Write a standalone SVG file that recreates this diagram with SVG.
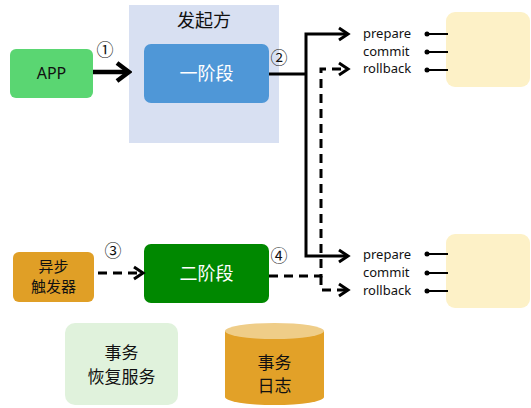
<svg xmlns="http://www.w3.org/2000/svg" width="531" height="408" viewBox="0 0 531 408">
<style>
.cn{font-family:"Noto Sans CJK SC","Microsoft YaHei",sans-serif;text-anchor:middle}
.en{font-family:"Noto Sans","Open Sans",sans-serif;font-size:13px;fill:#111}
.num{font-family:"Noto Sans CJK SC",sans-serif;font-size:17px;fill:#111;text-anchor:middle}
.solid{fill:none;stroke:#000;stroke-width:3}
.dash{fill:none;stroke:#000;stroke-width:3;stroke-dasharray:9,6}
.pin{stroke:#000;stroke-width:2}
</style>
<defs>
<marker id="chev" markerUnits="userSpaceOnUse" markerWidth="16" markerHeight="16" refX="13" refY="8" orient="auto" viewBox="0 0 16 16">
<path d="M4,2 L13,8 L4,14" fill="none" stroke="#000" stroke-width="3"/>
</marker>
<marker id="chevBig" markerUnits="userSpaceOnUse" markerWidth="20" markerHeight="24" refX="17" refY="12" orient="auto" viewBox="0 0 20 24">
<path d="M5,3 L17,12 L5,21" fill="none" stroke="#000" stroke-width="4.5"/>
</marker>
</defs>

<g id="initiator">
<rect x="129" y="5" width="150" height="138" fill="#d8e0f2"/>
<text class="cn" x="204" y="27" font-size="18" fill="#111">发起方</text>
</g>

<g id="app">
<rect x="10" y="49" width="83" height="49" rx="6" fill="#5ad672"/>
<text x="51.5" y="79" font-family="Noto Sans,Open Sans,sans-serif" font-size="16" fill="#111" text-anchor="middle">APP</text>
</g>

<g id="phase1">
<rect x="144" y="44" width="125" height="59" rx="7" fill="#4f97d7"/>
<text class="cn" x="206.5" y="80" font-size="18" fill="#fff">一阶段</text>
</g>

<g id="trigger">
<rect x="13" y="252" width="81" height="50" rx="6" fill="#e09f26"/>
<text class="cn" x="53.5" y="272" font-size="15" fill="#111">异步</text>
<text class="cn" x="53.5" y="292" font-size="15" fill="#111">触发器</text>
</g>

<g id="phase2">
<rect x="144" y="244" width="125" height="59" rx="7" fill="#008800"/>
<text class="cn" x="206.5" y="280" font-size="18" fill="#fff">二阶段</text>
</g>

<g id="recovery">
<rect x="65" y="323" width="113" height="82" rx="10" fill="#e0f2dc"/>
<text class="cn" x="121.5" y="359" font-size="17" fill="#111">事务</text>
<text class="cn" x="121.5" y="383" font-size="17" fill="#111">恢复服务</text>
</g>

<g id="txlog">
<path d="M225,331 V397 A49.5,8 0 0 0 324,397 V331 Z" fill="#e2a128"/>
<ellipse cx="274.5" cy="331" rx="49.5" ry="8" fill="#efcd88"/>
<text class="cn" x="274.5" y="369" font-size="17" fill="#111">事务</text>
<text class="cn" x="274.5" y="392" font-size="17" fill="#111">日志</text>
</g>

<g id="participant1">
<rect x="446" y="12" width="84" height="75" rx="9" fill="#fdf1c7"/>
<text class="en" x="363" y="38">prepare</text>
<text class="en" x="363" y="56">commit</text>
<text class="en" x="363" y="73">rollback</text>
<line class="pin" x1="427" y1="34" x2="448" y2="34"/>
<line class="pin" x1="427" y1="52" x2="448" y2="52"/>
<line class="pin" x1="427" y1="70" x2="448" y2="70"/>
<circle cx="427" cy="34" r="2.5"/>
<circle cx="427" cy="52" r="2.5"/>
<circle cx="427" cy="70" r="2.5"/>
</g>

<g id="participant2">
<rect x="446" y="234" width="84" height="74" rx="9" fill="#fdf1c7"/>
<text class="en" x="363" y="259">prepare</text>
<text class="en" x="363" y="277">commit</text>
<text class="en" x="363" y="295">rollback</text>
<line class="pin" x1="427" y1="254" x2="448" y2="254"/>
<line class="pin" x1="427" y1="273" x2="448" y2="273"/>
<line class="pin" x1="427" y1="291" x2="448" y2="291"/>
<circle cx="427" cy="254" r="2.5"/>
<circle cx="427" cy="273" r="2.5"/>
<circle cx="427" cy="291" r="2.5"/>
</g>

<g id="connectors">
<line x1="93" y1="72" x2="129" y2="72" stroke="#000" stroke-width="4.5" marker-end="url(#chevBig)"/>
<text class="num" x="105" y="56">①</text>
<path class="solid" d="M269,74 H306"/>
<path class="solid" d="M306,74 V34 H348" marker-end="url(#chev)"/>
<path class="solid" d="M306,74 V256 H348" marker-end="url(#chev)"/>
<text class="num" x="279" y="64">②</text>
<path class="dash" d="M98,273 H143" marker-end="url(#chev)"/>
<text class="num" x="113" y="257">③</text>
<path class="dash" d="M269,276 H321 V69 H348" marker-end="url(#chev)"/>
<path class="dash" d="M321,276 V290 H348" marker-end="url(#chev)" stroke-dasharray="3,10,8,0"/>
<text class="num" x="279" y="262">④</text>
</g>
</svg>
